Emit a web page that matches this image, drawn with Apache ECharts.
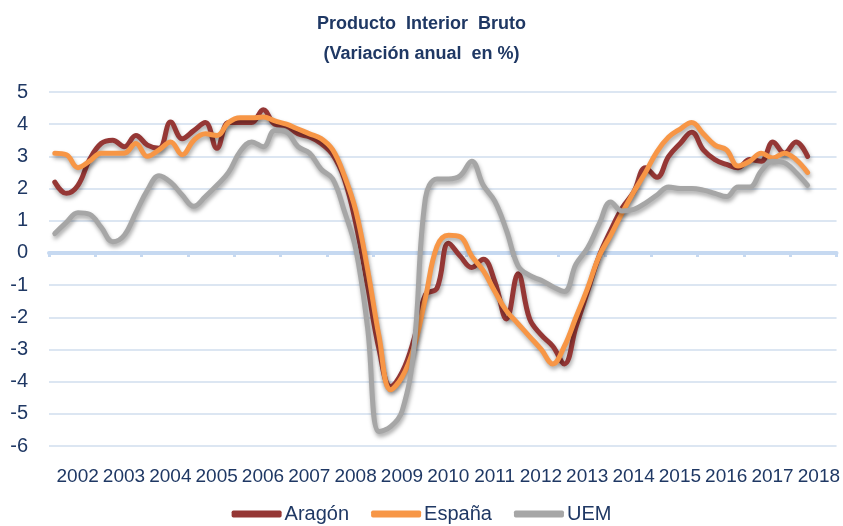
<!DOCTYPE html>
<html>
<head>
<meta charset="utf-8">
<title>Producto Interior Bruto</title>
<script src="https://cdn.jsdelivr.net/npm/echarts@6/dist/echarts.min.js"></script>
<style>
  html, body { margin: 0; padding: 0; background: #ffffff; }
  #chart { width: 843px; height: 526px; }
</style>
</head>
<body>
<div id="chart"></div>
<script>
// Years shown on the axis (quarterly data, 4 categories per year)
const years = ['2002', '2003', '2004', '2005', '2006', '2007', '2008', '2009', '2010',
  '2011', '2012', '2013', '2014', '2015', '2016', '2017', '2018'];

// Tick labels of the value axis
const yTicks = [-6, -5, -4, -3, -2, -1, 0, 1, 2, 3, 4, 5];

// Annual % change, 2002 Q1 .. 2018 Q2
const aragon = [
  2.2, 1.85, 2.1, 2.9,
  3.4, 3.5, 3.3, 3.65,
  3.35, 3.25, 4.07, 3.55,
  3.8, 4.05, 3.25, 4.05,
  4.05, 4.05, 4.45, 4.0,
  3.95, 3.7, 3.6, 3.4,
  3.05, 2.3, 0.9, -1.0,
  -3.0, -4.15, -3.7, -2.7,
  -1.3, -1.1, 0.3, -0.1,
  -0.45, -0.2, -0.9, -2.05,
  -0.65, -2.05, -2.55, -2.9,
  -3.45, -2.3, -1.2, -0.1,
  0.7, 1.4, 1.9, 2.65,
  2.35, 3.0, 3.4, 3.75,
  3.2, 2.9, 2.75, 2.65,
  2.9, 2.85, 3.45, 3.1,
  3.45, 3.0
];

const espana = [
  3.1, 3.05, 2.65, 2.85,
  3.1, 3.1, 3.1, 3.4,
  3.0, 3.2, 3.45, 3.05,
  3.5, 3.7, 3.65, 4.05,
  4.2, 4.2, 4.22, 4.1,
  4.0, 3.85, 3.7, 3.55,
  3.2, 2.4, 1.3, -0.5,
  -2.6, -4.25, -3.85, -2.95,
  -1.4, 0.2, 0.55, 0.5,
  -0.1, -0.55, -1.2, -1.8,
  -2.2, -2.6, -3.0, -3.45,
  -2.9, -2.0, -1.1, -0.1,
  0.55, 1.25, 1.9, 2.5,
  3.15, 3.6, 3.85, 4.05,
  3.7, 3.35, 3.2, 2.7,
  2.85, 3.1, 2.95, 3.1,
  2.9, 2.5
];

const uem = [
  0.6, 0.95, 1.25, 1.2,
  0.8, 0.35, 0.55, 1.25,
  1.95, 2.4, 2.2, 1.8,
  1.45, 1.75, 2.1, 2.5,
  3.15, 3.45, 3.3, 3.8,
  3.75, 3.3, 3.1, 2.6,
  2.3, 1.3, 0.1, -2.3,
  -5.55, -5.4, -4.9, -3.0,
  1.7, 2.3, 2.3, 2.4,
  2.85, 2.1, 1.6, 0.7,
  -0.4, -0.7, -0.85, -1.05,
  -1.2, -0.35, 0.15, 0.9,
  1.58, 1.3, 1.35, 1.55,
  1.8, 2.05, 2.0, 2.0,
  1.95, 1.85, 1.75, 2.05,
  2.05, 2.55, 2.85, 2.8,
  2.5, 2.1
];

// One category per quarter
const quarters = [];
years.forEach(y => {
  for (let q = 1; q <= 4; q++) quarters.push(y + ' T' + q);
});

const textColor = '#1f3864';
const gridColor = '#dce6f2';
const fontFamily = "'Liberation Sans', Arial, sans-serif";

const chart = echarts.init(document.getElementById('chart'), null, { renderer: 'canvas' });

const lineShadow = {
  shadowColor: 'rgba(0, 0, 0, 0.35)',
  shadowBlur: 4,
  shadowOffsetX: 1,
  shadowOffsetY: 3
};

function makeSeries(name, data, color) {
  return {
    name: name,
    type: 'line',
    data: data,
    xAxisIndex: 0,
    smooth: 0.4,
    showSymbol: false,
    color: color,
    lineStyle: Object.assign({ width: 5, color: color, cap: 'round', join: 'round' }, lineShadow)
  };
}

const option = {
  animation: false,
  backgroundColor: '#ffffff',
  textStyle: { fontFamily: fontFamily },
  title: {
    text: 'Producto  Interior  Bruto\n(Variación anual  en %)',
    left: 'center',
    top: 4,
    textStyle: {
      fontFamily: fontFamily,
      fontSize: 18,
      fontWeight: 'bold',
      color: textColor,
      lineHeight: 30
    }
  },
  grid: {
    left: 49,
    right: 6,
    top: 92,
    bottom: 80,
    containLabel: false
  },
  legend: {
    top: 499,
    left: 'center',
    itemWidth: 50,
    itemHeight: 7,
    itemGap: 22,
    icon: 'roundRect',
    textStyle: { fontFamily: fontFamily, fontSize: 20, color: textColor, padding: [0, 0, 0, -2] },
    data: ['Aragón', 'España', 'UEM']
  },
  xAxis: [
    {
      // axis line and ticks at the zero level
      type: 'category',
      data: quarters,
      boundaryGap: true,
      axisLine: { onZero: true, lineStyle: { color: '#c6d9f1', width: 4 } },
      axisTick: {
        show: true,
        length: 4,
        interval: (i) => i % 4 === 0,
        lineStyle: { color: '#c6d9f1', width: 3 }
      },
      axisLabel: { show: false },
      splitLine: { show: false }
    },
    {
      // year labels at the bottom, one category per year
      type: 'category',
      data: years,
      position: 'bottom',
      boundaryGap: true,
      axisLine: { show: false, onZero: false },
      axisTick: { show: false },
      axisLabel: {
        interval: 0,
        hideOverlap: false,
        margin: 21,
        padding: [0, 0, 0, 11],
        fontFamily: fontFamily,
        fontSize: 19,
        color: textColor
      },
      splitLine: { show: false }
    }
  ],
  yAxis: {
    type: 'value',
    min: yTicks[0],
    max: yTicks[yTicks.length - 1],
    interval: 1,
    axisLine: { show: false },
    axisTick: { show: false },
    axisLabel: {
      margin: 21,
      fontFamily: fontFamily,
      fontSize: 20,
      color: textColor
    },
    splitLine: { lineStyle: { color: gridColor, width: 2 } }
  },
  series: [
    makeSeries('Aragón', aragon, '#953735'),
    makeSeries('España', espana, '#f79646'),
    makeSeries('UEM', uem, '#a6a6a6')
  ]
};

chart.setOption(option);
</script>
</body>
</html>
